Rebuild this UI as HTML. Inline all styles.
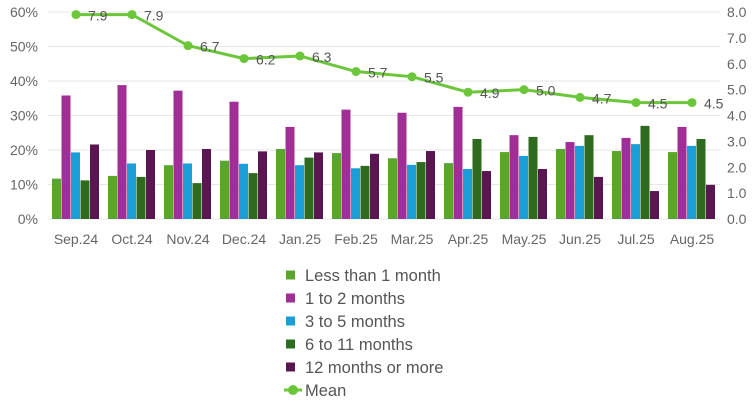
<!DOCTYPE html>
<html><head><meta charset="utf-8"><style>
html,body{margin:0;padding:0;background:#fff;}
svg{display:block;font-family:"Liberation Sans",Arial,sans-serif;}
</style></head><body>
<svg id="c" width="756" height="407" viewBox="0 0 756 407" xmlns="http://www.w3.org/2000/svg"></svg>
<script>
var s=document.getElementById('c'),h='';
var cols=['#58a630','#a12d96','#199ed8','#2e6b1e','#5a1650'];
var d=[[11.7,35.8,19.3,11.2,21.6],[12.5,38.8,16.1,12.2,20],[15.6,37.2,16.1,10.4,20.3],[16.9,34,16,13.3,19.6],[20.3,26.7,15.6,17.8,19.3],[19.1,31.7,14.7,15.4,18.9],[17.6,30.8,15.7,16.5,19.7],[16.2,32.5,14.5,23.2,13.9],[19.4,24.3,18.3,23.8,14.5],[20.3,22.3,21.2,24.3,12.2],[19.7,23.5,21.7,27,8.1],[19.4,26.7,21.2,23.2,9.9]];
var m=[7.9,7.9,6.7,6.2,6.3,5.7,5.5,4.9,5.0,4.7,4.5,4.5];
var lab=['Sep.24','Oct.24','Nov.24','Dec.24','Jan.25','Feb.25','Mar.25','Apr.25','May.25','Jun.25','Jul.25','Aug.25'];
var y0=219,pp=3.45;
for(var i=0;i<=6;i++){var y=y0-i*34.5;
h+='<line x1="48" x2="720" y1="'+y+'" y2="'+y+'" stroke="#e6e6e6" stroke-width="1"/>';
h+='<text x="38" y="'+(y+5)+'" font-size="14" fill="#666" text-anchor="end">'+(i*10)+'%</text>';}
for(var i=0;i<=8;i++){var y=y0-i*25.875;
h+='<text x="727" y="'+(y+5)+'" font-size="14" fill="#666">'+i.toFixed(1)+'</text>';}
for(var g=0;g<12;g++){for(var k=0;k<5;k++){var v=d[g][k];
h+='<rect x="'+(52+56*g+9.5*k)+'" y="'+(y0-v*pp)+'" width="9" height="'+(v*pp)+'" fill="'+cols[k]+'"/>';}
h+='<text x="'+(76+56*g)+'" y="244" font-size="14" fill="#666" text-anchor="middle">'+lab[g]+'</text>';}
var pts=m.map(function(v,g){return (76+56*g)+','+(y0-v*25.875)}).join(' ');
h+='<polyline points="'+pts+'" fill="none" stroke="#6cc63a" stroke-width="3"/>';
m.forEach(function(v,g){var x=76+56*g,y=y0-v*25.875;
h+='<circle cx="'+x+'" cy="'+y+'" r="4.5" fill="#6cc63a"/>';
h+='<text x="'+(x+12)+'" y="'+(y+6)+'" font-size="14" fill="#555">'+v.toFixed(1)+'</text>';});
var L=['Less than 1 month','1 to 2 months','3 to 5 months','6 to 11 months','12 months or more'];
for(var k=0;k<5;k++){var y=275+23*k;
h+='<rect x="286" y="'+(y-4.5)+'" width="9" height="9" fill="'+cols[k]+'"/>';
h+='<text x="305" y="'+(y+6)+'" font-size="16.5" fill="#555">'+L[k]+'</text>';}
h+='<line x1="284" x2="302" y1="390" y2="390" stroke="#6cc63a" stroke-width="3"/><circle cx="293" cy="390" r="5" fill="#6cc63a"/>';
h+='<text x="305" y="396" font-size="16.5" fill="#555">Mean</text>';
s.innerHTML=h;
</script>
</body></html>
